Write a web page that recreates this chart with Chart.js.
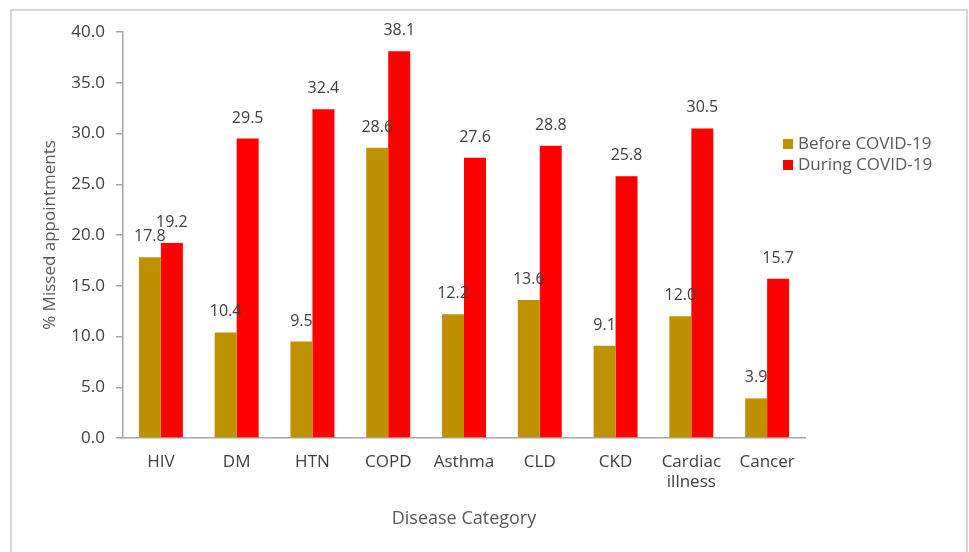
<!DOCTYPE html>
<html>
<head>
<meta charset="utf-8">
<script src="https://cdn.jsdelivr.net/npm/chart.js@4.4.1/dist/chart.umd.min.js"></script>
<style>
  html, body { margin: 0; padding: 0; background: #fff; }
  #wrap { width: 969px; height: 552px; }
</style>
</head>
<body>
<div id="wrap"><canvas id="chart" width="969" height="552"></canvas></div>
<script>
  // data
  const categories = ['HIV', 'DM', 'HTN', 'COPD', 'Asthma', 'CLD', 'CKD', ['Cardiac', 'illness'], 'Cancer'];
  const beforeCovid = [17.8, 10.4, 9.5, 28.6, 12.2, 13.6, 9.1, 12.0, 3.9];
  const duringCovid = [19.2, 29.5, 32.4, 38.1, 27.6, 28.8, 25.8, 30.5, 15.7];
  const seriesNames = ['Before COVID-19', 'During COVID-19'];
  const seriesColors = ['#BF9000', '#FF0000'];

  const FONT = 'Open Sans';
  const axisGray = '#a6a6a6';

  // white background + light frame round the picture
  const framePlugin = {
    id: 'frame',
    beforeDraw(chart) {
      const ctx = chart.ctx;
      ctx.save();
      ctx.fillStyle = '#fff';
      ctx.fillRect(0, 0, chart.width, chart.height);
      ctx.strokeStyle = '#d6d6d6';
      ctx.lineWidth = 2;
      ctx.strokeRect(11, 10, 956, 560);
      ctx.restore();
    }
  };

  // value labels above the bars
  const valueLabels = {
    id: 'valueLabels',
    afterDatasetsDraw(chart) {
      const ctx = chart.ctx;
      ctx.save();
      ctx.font = '16px "' + FONT + '"';
      ctx.fillStyle = '#404040';
      ctx.textAlign = 'center';
      ctx.textBaseline = 'alphabetic';
      chart.data.datasets.forEach((ds, i) => {
        chart.getDatasetMeta(i).data.forEach((bar, j) => {
          ctx.fillText(ds.data[j].toFixed(1), bar.x, bar.y - 16);
        });
      });
      ctx.restore();
    }
  };

  // legend on the right, drawn by hand
  const sideLegend = {
    id: 'sideLegend',
    afterDraw(chart) {
      const ctx = chart.ctx;
      ctx.save();
      ctx.font = '17px "' + FONT + '"';
      ctx.textBaseline = 'middle';
      chart.data.datasets.forEach((ds, i) => {
        const y = 144 + i * 21;
        ctx.fillStyle = ds.backgroundColor;
        ctx.fillRect(783, y - 5, 10, 10);
        ctx.fillStyle = '#595959';
        ctx.fillText(ds.label, 798, y);
      });
      ctx.restore();
    }
  };

  new Chart(document.getElementById('chart'), {
    type: 'bar',
    data: {
      labels: categories,
      datasets: [
        { label: seriesNames[0], data: beforeCovid, backgroundColor: seriesColors[0] },
        { label: seriesNames[1], data: duringCovid, backgroundColor: seriesColors[1] }
      ]
    },
    options: {
      responsive: false,
      animation: false,
      layout: { padding: { left: 36, top: 32, right: 164, bottom: 18 } },
      datasets: { bar: { categoryPercentage: 0.58, barPercentage: 1.0 } },
      scales: {
        x: {
          afterFit(scale) { scale.height = 96; },
          grid: { display: true, drawOnChartArea: false, drawTicks: false },
          border: { color: axisGray, width: 1.5 },
          ticks: { padding: 14, color: '#404040', font: { family: FONT, size: 17 }, maxRotation: 0 },
          title: { display: true, text: 'Disease Category', color: '#595959', font: { family: FONT, size: 18 } }
        },
        y: {
          min: 0,
          max: 40,
          afterFit(scale) { scale.width = 87; },
          grid: { display: true, drawOnChartArea: false, tickLength: 7, color: axisGray, lineWidth: 1.5 },
          border: { color: axisGray, width: 1.5 },
          ticks: {
            stepSize: 5,
            padding: 11,
            color: '#404040',
            font: { family: FONT, size: 17 },
            callback: v => v.toFixed(1)
          },
          title: { display: true, text: '% Missed appointments', color: '#595959', font: { family: FONT, size: 17 } }
        }
      },
      plugins: {
        legend: { display: false },
        tooltip: { enabled: false }
      }
    },
    plugins: [framePlugin, valueLabels, sideLegend]
  });
</script>
</body>
</html>
